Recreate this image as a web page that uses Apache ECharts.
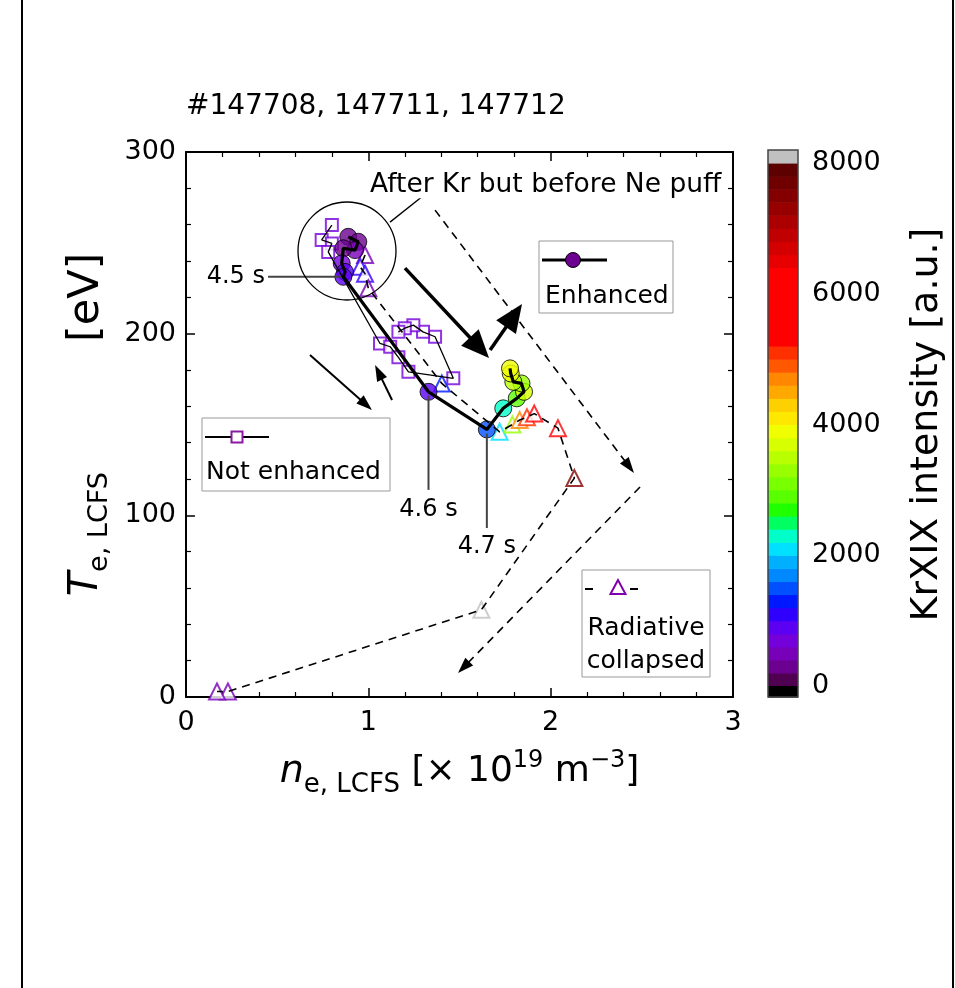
<!DOCTYPE html>
<html><head><meta charset="utf-8">
<script src="https://cdn.jsdelivr.net/npm/echarts@6/dist/echarts.min.js"></script>
<style>html,body{margin:0;padding:0;background:#fff}#c{width:955px;height:988px}</style>
</head><body><div id="c"></div>
<script>
// ---------------- data ----------------
const titleText = '#147708, 147711, 147712';
// [n_e (1e19 m^-3), T_e (eV), KrXIX intensity (a.u.)]
const enhanced = [
  [0.890, 253.3, 300], [0.945, 250.6, 300], [0.927, 246.0, 500], [0.863, 247.0, 300],
  [0.854, 238.7, 700], [0.872, 234.0, 900], [0.863, 231.3, 900],
  [1.330, 168.0, 900], [1.650, 147.3, 1500], [1.740, 158.9, 2300],
  [1.814, 164.4, 2900], [1.854, 168.0, 3700], [1.840, 172.6, 3300],
  [1.795, 173.5, 3500], [1.781, 178.1, 3900], [1.777, 180.9, 3900]
];
const notEnhanced = [
  [0.800, 259.8, 650], [0.744, 251.6, 650], [0.800, 249.7, 650], [0.780, 245.0, 650],
  [1.064, 194.6, 650], [1.120, 192.8, 650], [1.165, 187.0, 650], [1.220, 179.0, 650],
  [1.466, 175.4, 650], [1.366, 198.3, 650], [1.300, 201.0, 650], [1.247, 204.7, 650],
  [1.200, 203.0, 650], [1.165, 201.0, 650]
];
const radiative = [
  [0.982, 243.3, 500], [0.955, 236.8, 1100], [0.982, 233.0, 1100], [1.000, 225.0, 500],
  [1.403, 172.6, 1300], [1.720, 146.0, 2100], [1.790, 150.0, 3300], [1.830, 152.5, 4600],
  [1.870, 154.0, 5000], [1.910, 156.0, 5600], [2.040, 148.0, 5800], [2.130, 120.5, 7500],
  [1.620, 48.0, 8100], [0.230, 3.0, 500], [0.170, 3.0, 500]
];
// colour bar bands (each 200 a.u. wide, from 0 to 8000)
const bandStep = 200;
const bandColors = [
  '#500050', '#6c0090', '#7800b8', '#7400dc', '#5c00f4', '#3000ff', '#0018ff', '#0050ff',
  '#0088ff', '#00b0ff', '#00e0ff', '#00ffc8', '#00ff60', '#20ff00', '#58ff00', '#78ff00',
  '#98ff00', '#b8ff00', '#d8ff00', '#f0ff00', '#ffe800', '#ffd000', '#ffa800', '#ff8800',
  '#ff5800', '#ff3000', '#ff0000', '#ff0000', '#ff0000', '#ff0000', '#ff0000', '#ff0000',
  '#e80000', '#d40000', '#c00000', '#ac0000', '#980000', '#840000', '#700000', '#5c0000'
];
const underColor = '#000000';
const overColor = '#c0c0c0';
const cbMin = 0, cbMax = 8000, cbInterval = 2000;

// ---------------- chart ----------------
const FONT = 'DejaVu Sans';
const chart = echarts.init(document.getElementById('c'), null, {renderer: 'canvas', width: 955, height: 988});

const pieces = bandColors.map((c, i) => ({gte: i * bandStep, lt: (i + 1) * bandStep, color: c}));
pieces.push({lt: cbMin, color: underColor});
pieces.push({gte: cbMax, color: overColor});

const cbData = bandColors.map((c, i) => [i * bandStep, (i + 1) * bandStep, i]);
const capUnder = 168, capOver = 199; // cap extents in a.u. (visual only)
cbData.push([cbMin - capUnder, cbMin, -1]);
cbData.push([cbMax, cbMax + capOver, bandColors.length]);
function bandColor(i) { return i < 0 ? underColor : (i >= bandColors.length ? overColor : bandColors[i]); }

const tickStyle = {color: '#000', width: 1.5};
function mainAxis(extra) {
  return Object.assign({
    type: 'value', gridIndex: 0,
    axisLine: {show: true, onZero: false, lineStyle: {color: '#000', width: 2}},
    axisTick: {show: true, inside: true, length: 9, lineStyle: tickStyle},
    minorTick: {show: true, splitNumber: 5, length: 5, lineStyle: {color: '#000', width: 1.2}},
    splitLine: {show: false}, minorSplitLine: {show: false},
    axisLabel: {show: false}
  }, extra);
}
const lbl = {show: true, color: '#000', fontSize: 27, fontFamily: FONT, formatter: v => String(v)};

const option = {
  animation: false,
  backgroundColor: '#fff',
  title: {text: titleText, left: 186, top: 93, padding: 0,
    textStyle: {fontSize: 28, fontWeight: 'normal', fontFamily: FONT, color: '#000'}},
  grid: [
    {left: 186, top: 152, width: 547, height: 545, outerBoundsMode: 'none'},
    {left: 768, top: 163, width: 30, height: 523, outerBoundsMode: 'none'}
  ],
  xAxis: [
    mainAxis({position: 'bottom', min: 0, max: 3, interval: 1,
      axisLabel: Object.assign({margin: 12}, lbl),
      name: '{i|n}{sub|e, LCFS}{n| [× 10}{sup|19}{n| m}{sup|−3}{n|]}',
      nameLocation: 'middle', nameGap: 49,
      nameTextStyle: {color: '#000', fontFamily: FONT, rich: {
        i: {fontSize: 38, fontStyle: 'italic', fontFamily: FONT, color: '#000'},
        sub: {fontSize: 26, fontFamily: FONT, color: '#000', padding: [26, 0, 0, 0]},
        n: {fontSize: 36, fontFamily: FONT, color: '#000'},
        sup: {fontSize: 24, fontFamily: FONT, color: '#000', padding: [0, 0, 22, 0]}
      }}}),
    mainAxis({position: 'top', min: 0, max: 3, interval: 1}),
    {type: 'value', gridIndex: 1, min: 0, max: 1, show: false}
  ],
  yAxis: [
    mainAxis({position: 'left', min: 0, max: 300, interval: 100,
      axisLabel: Object.assign({margin: 10}, lbl),
      name: '{i|T}{sub|e, LCFS}{gap| }{n|[eV]}',
      nameLocation: 'middle', nameGap: 72,
      nameTextStyle: {color: '#000', fontFamily: FONT, rich: {
        i: {fontSize: 40, fontStyle: 'italic', fontFamily: FONT, color: '#000'},
        sub: {fontSize: 27, fontFamily: FONT, color: '#000', padding: [26, 0, 0, 0]},
        gap: {fontSize: 20, width: 130},
        n: {fontSize: 43, fontFamily: FONT, color: '#000'}
      }}}),
    mainAxis({position: 'right', min: 0, max: 300, interval: 100}),
    {type: 'value', gridIndex: 1, position: 'right', min: cbMin, max: cbMax, interval: cbInterval,
      axisLine: {show: false},
      axisTick: {show: true, inside: false, length: 9, lineStyle: {color: '#333', width: 1.5}},
      splitLine: {show: false},
      axisLabel: Object.assign({margin: 14}, lbl),
      name: 'KrXIX intensity [a.u.]', nameLocation: 'middle', nameRotate: 90, nameGap: 110,
      nameTextStyle: {color: '#000', fontSize: 38, fontFamily: FONT}}
  ],
  visualMap: {type: 'piecewise', show: false, dimension: 2, seriesIndex: [3, 4, 5], pieces: pieces},
  series: [
    {type: 'line', xAxisIndex: 0, yAxisIndex: 0, data: notEnhanced, showSymbol: false, symbol: 'none',
      lineStyle: {color: '#000', width: 1.3}, encode: {x: 0, y: 1}},
    {type: 'line', xAxisIndex: 0, yAxisIndex: 0, data: radiative, showSymbol: false, symbol: 'none',
      lineStyle: {color: '#000', width: 1.6, type: [8, 6]}, encode: {x: 0, y: 1}},
    {type: 'line', xAxisIndex: 0, yAxisIndex: 0, data: enhanced, showSymbol: false, symbol: 'none',
      lineStyle: {color: '#000', width: 3.2}, encode: {x: 0, y: 1}},
    {type: 'scatter', xAxisIndex: 0, yAxisIndex: 0, data: notEnhanced, symbol: 'emptyRect', symbolSize: 12,
      encode: {x: 0, y: 1}},
    {type: 'scatter', xAxisIndex: 0, yAxisIndex: 0, data: radiative, symbol: 'emptyTriangle', symbolSize: 16,
      encode: {x: 0, y: 1}},
    {type: 'scatter', xAxisIndex: 0, yAxisIndex: 0, data: enhanced, symbol: 'circle', symbolSize: 17,
      itemStyle: {borderColor: '#000', borderWidth: 1}, encode: {x: 0, y: 1}},
    {type: 'custom', xAxisIndex: 2, yAxisIndex: 2, data: cbData, clip: false, silent: true,
      renderItem: function (params, api) {
        const lo = api.value(0), hi = api.value(1), idx = api.value(2);
        const p1 = api.coord([0, hi]), p2 = api.coord([1, lo]);
        return {type: 'rect', shape: {x: p1[0], y: p1[1], width: p2[0] - p1[0], height: p2[1] - p1[1] + 0.6},
          style: {fill: bandColor(idx)}};
      }},
    {type: 'custom', xAxisIndex: 2, yAxisIndex: 2, data: [[cbMin - capUnder, cbMax + capOver]], clip: false, silent: true,
      z: 5,
      renderItem: function (params, api) {
        const p1 = api.coord([0, api.value(1)]), p2 = api.coord([1, api.value(0)]);
        return {type: 'rect', shape: {x: p1[0], y: p1[1], width: p2[0] - p1[0], height: p2[1] - p1[1]},
          style: {fill: 'none', stroke: '#444', lineWidth: 1.5}};
      }}
  ]
};
chart.setOption(option);

// ---------------- annotations (in data coordinates) ----------------
const notes = {
  circle: {c: [0.883, 245.5], r: 49},
  pointer: [[1.119, 261.4], [1.339, 279]],
  label: {p: [1.009, 282], text: 'After Kr but before Ne puff'},
  bigArrows: [[[1.201, 236.1], [1.662, 186.6]], [[1.668, 191], [1.843, 216.3]]],
  smallArrows: [[[0.680, 188.2], [1.020, 158]], [[1.130, 163.5], [1.037, 182.7]]],
  dashArrows: [[[1.366, 268], [2.457, 123.3]], [[2.49, 115.6], [1.492, 13.2]]],
  times: [
    {text: '4.5 s', line: [[0.45, 231.3], [0.85, 231.3]], at: [0.433, 231.3], align: 'right'},
    {text: '4.6 s', line: [[1.33, 166], [1.33, 114]], at: [1.33, 103], align: 'center'},
    {text: '4.7 s', line: [[1.65, 145], [1.65, 93]], at: [1.65, 82.5], align: 'center'}
  ]
};
const P = p => chart.convertToPixel({gridIndex: 0}, p);
function arrow(a, b, o) {
  const p0 = P(a), p1 = P(b);
  const dx = p1[0] - p0[0], dy = p1[1] - p0[1], L = Math.hypot(dx, dy);
  const ux = dx / L, uy = dy / L, nx = -uy, ny = ux;
  const bx = p1[0] - ux * o.hl, by = p1[1] - uy * o.hl;
  return [
    {type: 'line', z: 50, shape: {x1: p0[0], y1: p0[1], x2: bx + ux, y2: by + uy},
      style: {stroke: '#000', lineWidth: o.lw, lineDash: o.dash || null}},
    {type: 'polygon', z: 50, shape: {points: [[p1[0], p1[1]], [bx + nx * o.hw / 2, by + ny * o.hw / 2], [bx - nx * o.hw / 2, by - ny * o.hw / 2]]},
      style: {fill: '#000'}}
  ];
}
const g = [];
const cc = P(notes.circle.c);
g.push({type: 'circle', z: 50, shape: {cx: cc[0], cy: cc[1], r: notes.circle.r}, style: {fill: 'none', stroke: '#000', lineWidth: 1.3}});
const pa = P(notes.pointer[0]), pb = P(notes.pointer[1]);
g.push({type: 'line', z: 50, shape: {x1: pa[0], y1: pa[1], x2: pb[0], y2: pb[1]}, style: {stroke: '#000', lineWidth: 1.3}});
const lp = P(notes.label.p);
g.push({type: 'text', z: 51, style: {text: notes.label.text, x: lp[0], y: lp[1], align: 'left', verticalAlign: 'middle',
  font: '26.5px "DejaVu Sans"', fill: '#000', backgroundColor: '#fff'}});
notes.bigArrows.forEach(a => g.push(...arrow(a[0], a[1], {lw: 3.5, hl: 28, hw: 24})));
notes.smallArrows.forEach(a => g.push(...arrow(a[0], a[1], {lw: 2, hl: 16, hw: 11})));
notes.dashArrows.forEach(a => g.push(...arrow(a[0], a[1], {lw: 1.6, hl: 16, hw: 11, dash: [8, 6]})));
notes.times.forEach(t => {
  const a = P(t.line[0]), b = P(t.line[1]), q = P(t.at);
  g.push({type: 'line', z: 49, shape: {x1: a[0], y1: a[1], x2: b[0], y2: b[1]}, style: {stroke: '#444', lineWidth: 2}});
  g.push({type: 'text', z: 51, style: {text: t.text, x: q[0], y: q[1], align: t.align,
    verticalAlign: 'middle', font: '24px "DejaVu Sans"', fill: '#000'}});
});
// legends (layout in pixels)
const txt = (s, x, y, al) => ({type: 'text', z: 61, style: {text: s, x: x, y: y, align: al || 'left', verticalAlign: 'middle',
  font: '25px "DejaVu Sans"', fill: '#000'}});
g.push({type: 'rect', z: 60, shape: {x: 539, y: 241, width: 134, height: 72}, style: {fill: '#fff', stroke: '#999', lineWidth: 1}});
g.push({type: 'line', z: 61, shape: {x1: 542, y1: 260, x2: 607, y2: 260}, style: {stroke: '#000', lineWidth: 3}});
g.push({type: 'circle', z: 62, shape: {cx: 573, cy: 260, r: 7.5}, style: {fill: bandColors[1], stroke: '#000', lineWidth: 1}});
g.push(txt('Enhanced', 545, 296));
g.push({type: 'rect', z: 60, shape: {x: 202, y: 418, width: 188, height: 73}, style: {fill: '#fff', stroke: '#999', lineWidth: 1}});
g.push({type: 'line', z: 61, shape: {x1: 205, y1: 437, x2: 269, y2: 437}, style: {stroke: '#000', lineWidth: 2}});
g.push({type: 'rect', z: 62, shape: {x: 231.5, y: 431.5, width: 11, height: 11}, style: {fill: '#fff', stroke: '#8a1aa0', lineWidth: 2}});
g.push(txt('Not enhanced', 206, 472));
g.push({type: 'rect', z: 60, shape: {x: 582, y: 570, width: 128, height: 107}, style: {fill: '#fff', stroke: '#999', lineWidth: 1}});
g.push({type: 'line', z: 61, shape: {x1: 585, y1: 589, x2: 593, y2: 589}, style: {stroke: '#000', lineWidth: 2}});
g.push({type: 'line', z: 61, shape: {x1: 630, y1: 589, x2: 638, y2: 589}, style: {stroke: '#000', lineWidth: 2}});
g.push({type: 'polygon', z: 62, shape: {points: [[618, 580], [610.5, 594], [625.5, 594]]}, style: {fill: '#fff', stroke: '#8000b0', lineWidth: 2}});
g.push(txt('Radiative', 646, 628, 'center'));
g.push(txt('collapsed', 646, 661, 'center'));
// page frame
g.push({type: 'line', z: 70, shape: {x1: 22, y1: 0, x2: 22, y2: 988}, style: {stroke: '#000', lineWidth: 2}});
g.push({type: 'line', z: 70, shape: {x1: 953, y1: 0, x2: 953, y2: 988}, style: {stroke: '#000', lineWidth: 2}});
chart.setOption({graphic: g});
</script></body></html>
